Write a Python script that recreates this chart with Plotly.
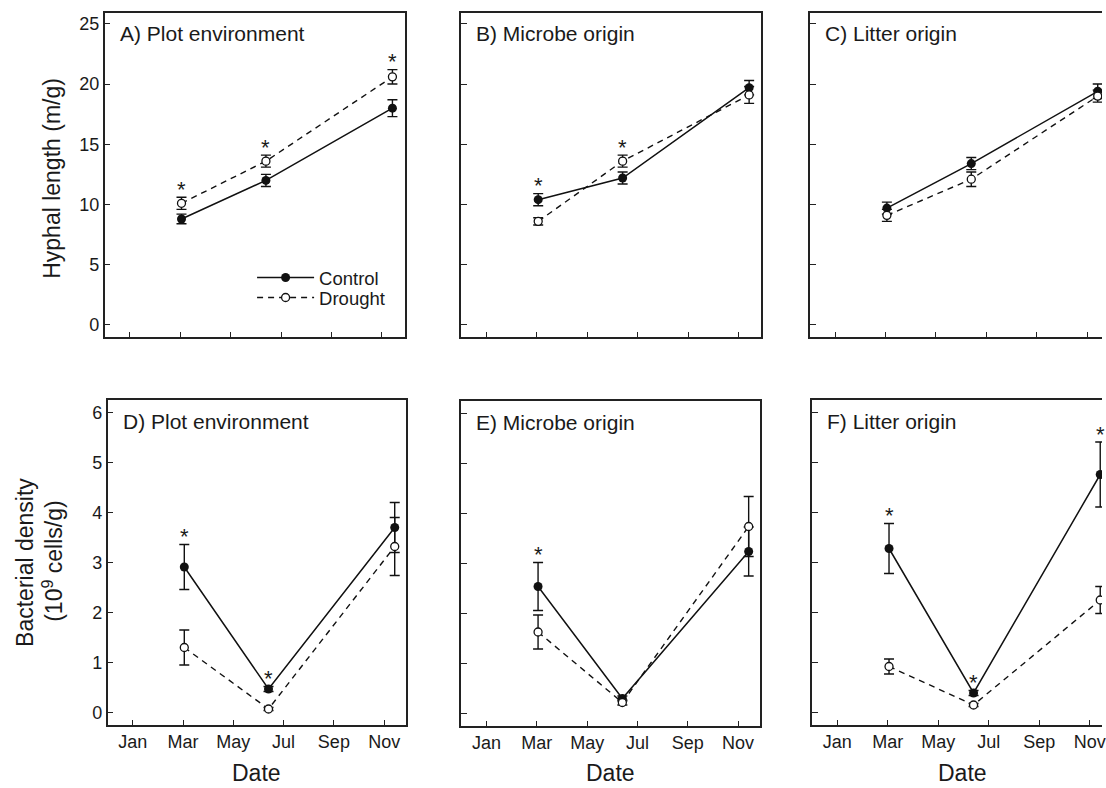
import plotly.graph_objects as go
from plotly.subplots import make_subplots

# ---------------- data ----------------
month_ticks = [1, 3, 5, 7, 9, 11]
month_labels = ["Jan", "Mar", "May", "Jul", "Sep", "Nov"]
sample_dates = [3.05, 6.4, 11.42]   # sampling dates in months

panel_titles = ["A) Plot environment", "B) Microbe origin", "C) Litter origin",
                "D) Plot environment", "E) Microbe origin", "F) Litter origin"]

# Hyphal length (m/g)
hyph_plot_control = [8.8, 12.0, 18.0]
hyph_plot_control_se = [0.4, 0.5, 0.7]
hyph_plot_drought = [10.1, 13.6, 20.6]
hyph_plot_drought_se = [0.5, 0.5, 0.6]
hyph_plot_sig = [True, True, True]

hyph_microbe_control = [10.4, 12.2, 19.7]
hyph_microbe_control_se = [0.5, 0.5, 0.6]
hyph_microbe_drought = [8.6, 13.6, 19.1]
hyph_microbe_drought_se = [0.3, 0.5, 0.7]
hyph_microbe_sig = [True, True, False]

hyph_litter_control = [9.7, 13.4, 19.4]
hyph_litter_control_se = [0.5, 0.5, 0.6]
hyph_litter_drought = [9.1, 12.1, 19.0]
hyph_litter_drought_se = [0.5, 0.6, 0.5]
hyph_litter_sig = [False, False, False]

# Bacterial density (10^9 cells/g)
bact_plot_control = [2.91, 0.47, 3.70]
bact_plot_control_se = [0.45, 0.05, 0.50]
bact_plot_drought = [1.30, 0.07, 3.32]
bact_plot_drought_se = [0.35, 0.03, 0.58]
bact_plot_sig = [True, True, False]

bact_microbe_control = [2.54, 0.30, 3.24]
bact_microbe_control_se = [0.48, 0.05, 0.49]
bact_microbe_drought = [1.63, 0.22, 3.74]
bact_microbe_drought_se = [0.34, 0.05, 0.60]
bact_microbe_sig = [True, False, False]

bact_litter_control = [3.28, 0.39, 4.76]
bact_litter_control_se = [0.50, 0.05, 0.65]
bact_litter_drought = [0.92, 0.15, 2.25]
bact_litter_drought_se = [0.15, 0.03, 0.27]
bact_litter_sig = [True, True, True]

# ---------------- layout helpers ----------------
W, H = 1106, 788
FONT = "Liberation Sans, Arial, Helvetica, sans-serif"
INK = "#1a1a1a"


def fx(px):
    return px / W


def fy(py):
    return 1 - py / H


panels = [
    # (row, col, control, control_se, drought, drought_se, sig, x_px, y_px, xrange, yrange)
    (1, 1, hyph_plot_control, hyph_plot_control_se, hyph_plot_drought, hyph_plot_drought_se, hyph_plot_sig,
     (105, 406), (13, 337), [0.0, 11.9], [-1.0, 25.9]),
    (1, 2, hyph_microbe_control, hyph_microbe_control_se, hyph_microbe_drought, hyph_microbe_drought_se, hyph_microbe_sig,
     (463, 764), (13, 337), [0.0, 11.9], [-1.0, 25.9]),
    (1, 3, hyph_litter_control, hyph_litter_control_se, hyph_litter_drought, hyph_litter_drought_se, hyph_litter_sig,
     (813, 1106), (13, 337), [0.0, 11.59], [-1.0, 25.9]),
    (2, 1, bact_plot_control, bact_plot_control_se, bact_plot_drought, bact_plot_drought_se, bact_plot_sig,
     (108, 407), (400, 725), [0.0, 11.85], [-0.25, 6.25]),
    (2, 2, bact_microbe_control, bact_microbe_control_se, bact_microbe_drought, bact_microbe_drought_se, bact_microbe_sig,
     (463, 763), (401, 726), [0.0, 11.88], [-0.25, 6.25]),
    (2, 3, bact_litter_control, bact_litter_control_se, bact_litter_drought, bact_litter_drought_se, bact_litter_sig,
     (815, 1106), (400, 725), [0.0, 11.49], [-0.25, 6.25]),
]

fig = make_subplots(rows=2, cols=3)
annotations = []

for i, (r, c, ctl, ctl_se, dro, dro_se, sig, xpx, ypx, xr, yr) in enumerate(panels):
    first = (i == 0)
    fig.add_trace(go.Scatter(
        x=sample_dates, y=ctl, name="Control", mode="lines+markers",
        line=dict(color="#111111", width=1.5),
        marker=dict(symbol="circle", size=9, color="#111111", line=dict(width=0)),
        error_y=dict(type="data", array=ctl_se, visible=True, color="#111111", thickness=1.4, width=5),
        showlegend=first, legend="legend",
    ), row=r, col=c)
    fig.add_trace(go.Scatter(
        x=sample_dates, y=dro, name="Drought", mode="lines+markers",
        line=dict(color="#111111", width=1.4, dash="6px,5px"),
        marker=dict(symbol="circle", size=8, color="white", line=dict(color="#111111", width=1.3)),
        error_y=dict(type="data", array=dro_se, visible=True, color="#111111", thickness=1.4, width=5),
        showlegend=first, legend="legend2",
    ), row=r, col=c)

    axis_idx = i + 1
    xa = "xaxis" if axis_idx == 1 else f"xaxis{axis_idx}"
    ya = "yaxis" if axis_idx == 1 else f"yaxis{axis_idx}"
    xref = "x" if axis_idx == 1 else f"x{axis_idx}"
    yref = "y" if axis_idx == 1 else f"y{axis_idx}"
    right_edge = c == 3

    fig.update_layout({
        xa: dict(domain=[fx(xpx[0]), fx(xpx[1])], range=xr, tickvals=month_ticks, ticktext=month_labels,
                 showticklabels=(r == 2), ticks="inside", ticklen=5, tickwidth=1.3, tickcolor="#222",
                 showline=True, linewidth=1.5, linecolor="#222", mirror=True,
                 showgrid=False, zeroline=False, ticklabeloverflow="allow",
                 tickfont=dict(family=FONT, size=18, color=INK)),
        ya: dict(domain=[fy(ypx[1]), fy(ypx[0])], range=yr,
                 tickvals=[0, 5, 10, 15, 20, 25] if r == 1 else [0, 1, 2, 3, 4, 5, 6],
                 showticklabels=(c == 1), ticks="inside", ticklen=6, tickwidth=1.3, tickcolor="#222",
                 showline=True, linewidth=1.5, linecolor="#222", mirror=(not right_edge),
                 showgrid=False, zeroline=False,
                 tickfont=dict(family=FONT, size=18, color=INK)),
    })

    # panel title
    annotations.append(dict(text=panel_titles[i], xref="paper", yref="paper",
                            x=fx(xpx[0] + 13), y=fy(ypx[0] + 21), xanchor="left", yanchor="middle",
                            showarrow=False, font=dict(family=FONT, size=21, color=INK)))

    # significance asterisks
    for d, s, cv, cs, dv, ds in zip(sample_dates, sig, ctl, ctl_se, dro, dro_se):
        if s:
            top = max(cv + cs, dv + ds)
            annotations.append(dict(text="*", xref=xref, yref=yref, x=d, y=top,
                                    xanchor="center", yanchor="middle", yshift=8,
                                    showarrow=False, font=dict(family=FONT, size=22, color=INK)))

# axis titles
annotations.append(dict(text="Hyphal length (m/g)", xref="paper", yref="paper",
                        x=fx(52), y=fy(178), textangle=-90, xanchor="center", yanchor="middle",
                        showarrow=False, font=dict(family=FONT, size=23, color=INK)))
annotations.append(dict(text="Bacterial density", xref="paper", yref="paper",
                        x=fx(25), y=fy(562), textangle=-90, xanchor="center", yanchor="middle",
                        showarrow=False, font=dict(family=FONT, size=23, color=INK)))
annotations.append(dict(text="(10<sup>9</sup> cells/g)", xref="paper", yref="paper",
                        x=fx(53), y=fy(561), textangle=-90, xanchor="center", yanchor="middle",
                        showarrow=False, font=dict(family=FONT, size=23, color=INK)))
for cx in [257.5, 613, 965.5]:
    annotations.append(dict(text="Date", xref="paper", yref="paper",
                            x=fx(cx), y=fy(773), xanchor="center", yanchor="middle",
                            showarrow=False, font=dict(family=FONT, size=23, color=INK)))

legend_style = dict(xanchor="left", yanchor="middle", bgcolor="rgba(0,0,0,0)", borderwidth=0,
                    font=dict(family=FONT, size=18.5, color=INK), itemwidth=57)

fig.update_layout(
    width=W, height=H,
    margin=dict(l=0, r=0, t=0, b=0),
    paper_bgcolor="white", plot_bgcolor="white",
    font=dict(family=FONT, color=INK),
    annotations=annotations,
    legend=dict(x=fx(253), y=fy(278), **legend_style),
    legend2=dict(x=fx(253), y=fy(298), **legend_style),
)

fig.write_html("out.html",
               config={"displayModeBar": False},
               post_script="document.body.style.margin='0';document.body.style.overflow='hidden';")
